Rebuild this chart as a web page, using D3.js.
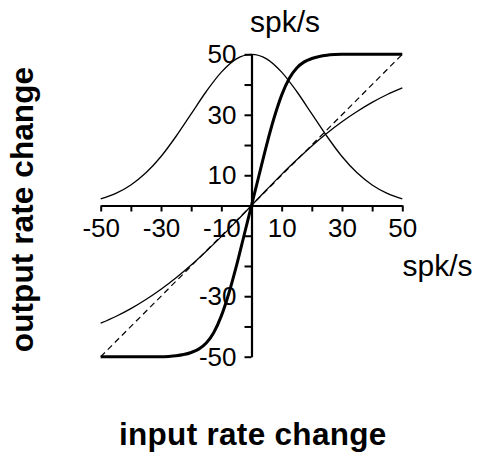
<!DOCTYPE html>
<html>
<head>
<meta charset="utf-8">
<script src="https://cdn.jsdelivr.net/npm/d3@7"></script>
<style>
  html, body { margin: 0; padding: 0; background: #fff; }
  svg { display: block; }
  text { font-family: "Liberation Sans", Arial, Helvetica, sans-serif; fill: #000; }
</style>
</head>
<body>
<svg id="chart" width="484" height="461"></svg>
<script>
// ---- data ----
const xGrid5 = [-50,-45,-40,-35,-30,-25,-20,-15,-10,-5,0,5,10,15,20,25,30,35,40,45,50];
const gaussianY = [2.2,4.0,6.8,10.8,16.2,22.9,30.3,37.7,44.1,48.5,50,48.5,44.1,37.7,30.3,22.9,16.2,10.8,6.8,4.0,2.2];
const saturatingY = [-38.9,-36.7,-34.1,-31.1,-27.7,-23.9,-19.7,-15.1,-10.3,-5.2,0,5.2,10.3,15.1,19.7,23.9,27.7,31.1,34.1,36.7,38.9];

const xGrid25 = [-50,-45,-40,-35,-30,-27.5,-25,-22.5,-20,-17.5,-15,-12.5,-10,-7.5,-5,-2.5,0,2.5,5,7.5,10,12.5,15,17.5,20,22.5,25,27.5,30,35,40,45,50];
const sigmoidY = [-50,-50,-50,-50,-50,-49.9,-49.7,-49.3,-48.6,-47.5,-45.5,-42,-36.5,-29,-20,-10,0,10,20,29,36.5,42,45.5,47.5,48.6,49.3,49.7,49.9,50,50,50,50,50];

const identityX = [-50, 50];
const identityY = [-50, 50];

const tickValues = [-50,-40,-30,-20,-10,0,10,20,30,40,50];
const xTickLabels = [-50,-30,-10,10,30,50];
const yTickLabels = [-50,-30,10,30,50];

const unitLabel = "spk/s";
const xTitle = "input rate change";
const yTitle = "output rate change";

// ---- drawing ----
const svg = d3.select("#chart");
const x = d3.scaleLinear().domain([-50, 50]).range([100.7, 402.3]);
const y = d3.scaleLinear().domain([-50, 50]).range([356.7, 54.3]);

const line = d3.line().x(d => x(d[0])).y(d => y(d[1])).curve(d3.curveMonotoneX);

const curves = svg.append("g").attr("fill", "none").attr("stroke", "#000");

curves.append("path")
  .datum(identityX.map((v, i) => [v, identityY[i]]))
  .attr("d", d3.line().x(d => x(d[0])).y(d => y(d[1])))
  .attr("stroke-width", 1.2)
  .attr("stroke-dasharray", "6,4");

curves.append("path")
  .datum(xGrid5.map((v, i) => [v, gaussianY[i]]))
  .attr("d", line)
  .attr("stroke-width", 1.3);

curves.append("path")
  .datum(xGrid5.map((v, i) => [v, saturatingY[i]]))
  .attr("d", line)
  .attr("stroke-width", 1.3);

curves.append("path")
  .datum(xGrid25.map((v, i) => [v, sigmoidY[i]]))
  .attr("d", line)
  .attr("stroke-width", 3);

// axes
const xAxis = d3.axisBottom(x)
  .tickValues(tickValues)
  .tickSizeInner(6).tickSizeOuter(0).tickPadding(7.5)
  .tickFormat(d => xTickLabels.includes(d) ? String(d) : "");
const yAxis = d3.axisLeft(y)
  .tickValues(tickValues)
  .tickSizeInner(7).tickSizeOuter(0).tickPadding(8)
  .tickFormat(d => yTickLabels.includes(d) ? String(d) : "");

const gx = svg.append("g").attr("transform", `translate(0,${y(0)})`).call(xAxis);
const gy = svg.append("g").attr("transform", `translate(${x(0)},0)`).call(yAxis);

[gx, gy].forEach(g => {
  g.select(".domain").attr("stroke", "#000").attr("stroke-width", 2.2);
  g.selectAll(".tick line").attr("stroke", "#000").attr("stroke-width", 2);
  g.selectAll(".tick text")
    .attr("font-family", "'Liberation Sans', Arial, Helvetica, sans-serif")
    .attr("font-size", 26).attr("fill", "#000");
});

// unit labels
svg.append("text").attr("x", 250).attr("y", 32)
  .attr("font-size", 30).text(unitLabel);
svg.append("text").attr("x", 402.5).attr("y", 276)
  .attr("font-size", 30).text(unitLabel);

// titles
svg.append("text").attr("x", 252.8).attr("y", 445)
  .attr("text-anchor", "middle").attr("font-size", 31.5).attr("font-weight", "bold")
  .attr("letter-spacing", 0.3)
  .text(xTitle);
svg.append("text")
  .attr("transform", "translate(33,209.5) rotate(-90)")
  .attr("text-anchor", "middle").attr("font-size", 31.5).attr("font-weight", "bold")
  .attr("letter-spacing", 0.1)
  .text(yTitle);
</script>
</body>
</html>
